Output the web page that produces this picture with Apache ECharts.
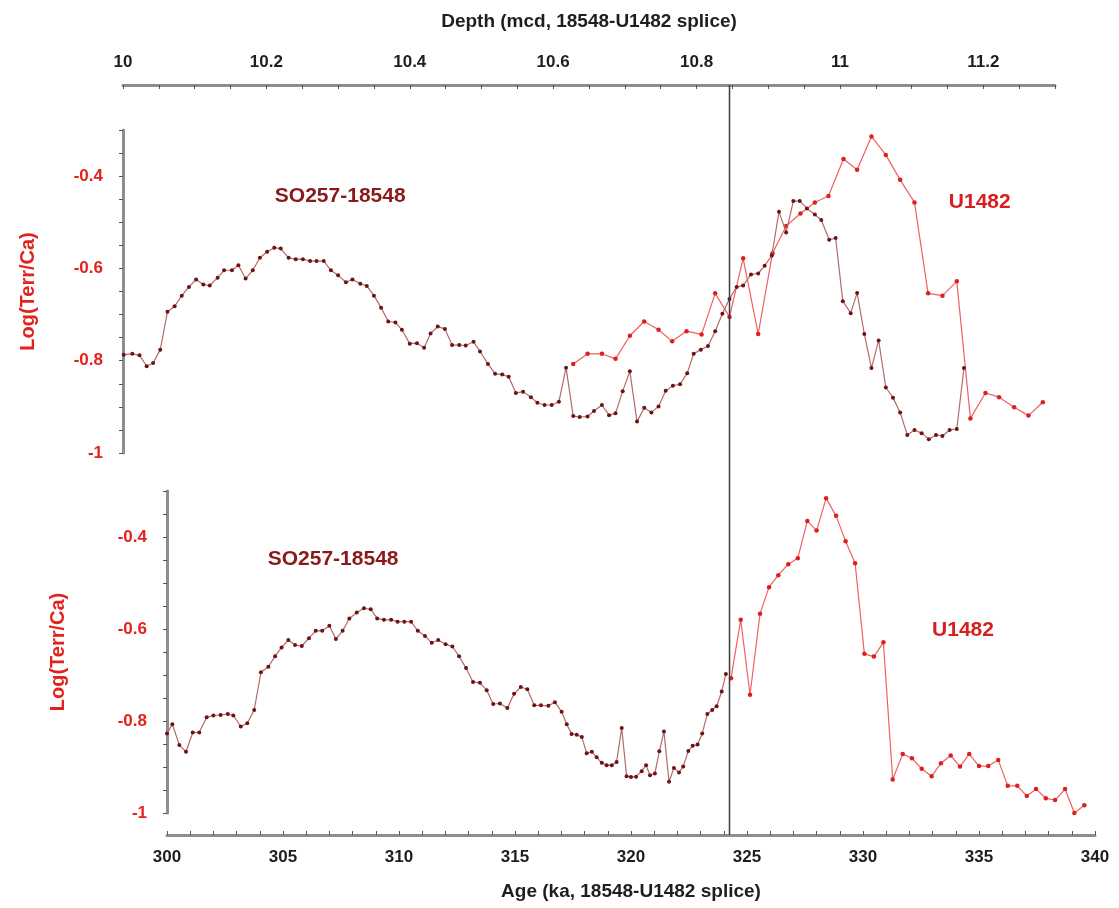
<!DOCTYPE html>
<html>
<head>
<meta charset="utf-8">
<script src="https://cdn.jsdelivr.net/npm/echarts@6/dist/echarts.min.js"></script>
<style>
html,body{margin:0;padding:0;background:#fff;}
#chart{width:1119px;height:908px;}
</style>
</head>
<body>
<div id="chart"></div>
<script>
// ---- Top panel (depth scale) ----
const depthSO257 = [
10.001,10.013,10.023,10.033,10.042,10.052,10.062,10.072,10.082,10.092,
10.102,10.112,10.121,10.132,10.141,10.152,10.161,10.171,10.181,10.191,
10.201,10.211,10.220,10.231,10.241,10.251,10.261,10.270,10.280,10.290,
10.300,10.311,10.320,10.331,10.340,10.350,10.360,10.370,10.380,10.389,
10.400,10.410,10.420,10.429,10.439,10.449,10.459,10.469,10.478,10.489,
10.498,10.509,10.519,10.529,10.538,10.548,10.558,10.569,10.578,10.588,
10.598,10.608,10.618,10.628,10.637,10.648,10.657,10.668,10.678,10.687,
10.697,10.707,10.717,10.727,10.737,10.747,10.757,10.767,10.777,10.787,
10.796,10.806,10.816,10.826,10.836,10.846,10.856,10.865,10.876,10.886,
10.895,10.905,10.915,10.925,10.935,10.944,10.954,10.965,10.974,10.985,
10.994,11.004,11.015,11.024,11.034,11.044,11.054,11.064,11.074,11.084,
11.094,11.104,11.114,11.124,11.134,11.143,11.153,11.163,11.173
];
const logSO257Depth = [
-0.787,-0.785,-0.788,-0.812,-0.805,-0.776,-0.694,-0.682,-0.659,-0.640,
-0.624,-0.635,-0.637,-0.620,-0.604,-0.604,-0.593,-0.622,-0.604,-0.577,
-0.564,-0.555,-0.557,-0.577,-0.580,-0.580,-0.584,-0.584,-0.584,-0.604,
-0.615,-0.630,-0.624,-0.633,-0.638,-0.659,-0.685,-0.715,-0.717,-0.733,
-0.763,-0.762,-0.772,-0.741,-0.726,-0.731,-0.766,-0.766,-0.767,-0.759,
-0.780,-0.807,-0.828,-0.830,-0.835,-0.870,-0.867,-0.879,-0.891,-0.896,
-0.896,-0.889,-0.815,-0.920,-0.922,-0.921,-0.909,-0.896,-0.918,-0.914,
-0.866,-0.823,-0.932,-0.902,-0.912,-0.899,-0.865,-0.854,-0.851,-0.827,
-0.785,-0.776,-0.768,-0.736,-0.698,-0.666,-0.640,-0.637,-0.613,-0.611,
-0.594,-0.572,-0.477,-0.522,-0.454,-0.454,-0.470,-0.483,-0.495,-0.538,
-0.534,-0.671,-0.697,-0.653,-0.742,-0.816,-0.756,-0.858,-0.880,-0.912,
-0.961,-0.950,-0.957,-0.970,-0.961,-0.963,-0.950,-0.948,-0.816
];
const depthU1482 = [
10.628,10.648,10.668,10.687,10.707,10.727,10.747,10.766,10.786,10.807,
10.826,10.846,10.865,10.886,10.906,10.925,10.945,10.965,10.984,11.005,
11.024,11.044,11.064,11.084,11.104,11.123,11.143,11.163,11.182,11.203,
11.222,11.243,11.263,11.283
];
const logU1482Depth = [
-0.807,-0.785,-0.785,-0.796,-0.746,-0.715,-0.733,-0.758,-0.736,-0.743,
-0.654,-0.705,-0.578,-0.742,-0.567,-0.508,-0.481,-0.457,-0.443,-0.363,
-0.386,-0.314,-0.354,-0.408,-0.457,-0.654,-0.659,-0.628,-0.925,-0.870,
-0.879,-0.901,-0.919,-0.890
];

// ---- Bottom panel (age scale, splice) ----
const ageSO257 = [
300.00,300.23,300.53,300.82,301.11,301.39,301.71,302.00,302.31,302.62,
302.86,303.18,303.46,303.76,304.05,304.37,304.66,304.94,305.23,305.52,
305.81,306.12,306.41,306.69,307.00,307.28,307.57,307.86,308.18,308.49,
308.78,309.06,309.35,309.66,309.94,310.23,310.52,310.81,311.12,311.41,
311.69,312.01,312.30,312.59,312.89,313.19,313.49,313.78,314.06,314.35,
314.67,314.96,315.25,315.53,315.83,316.12,316.44,316.72,317.01,317.23,
317.44,317.66,317.88,318.09,318.31,318.52,318.74,318.95,319.17,319.38,
319.60,319.81,320.00,320.22,320.46,320.65,320.82,321.03,321.22,321.42,
321.64,321.85,322.07,322.25,322.47,322.66,322.87,323.07,323.29,323.50,
323.69,323.91,324.09
];
const logSO257Age = [
-0.827,-0.807,-0.852,-0.867,-0.825,-0.825,-0.792,-0.788,-0.787,-0.785,
-0.788,-0.812,-0.805,-0.776,-0.694,-0.682,-0.659,-0.640,-0.624,-0.635,
-0.637,-0.620,-0.604,-0.604,-0.593,-0.622,-0.604,-0.577,-0.564,-0.555,
-0.557,-0.577,-0.580,-0.580,-0.584,-0.584,-0.584,-0.604,-0.615,-0.630,
-0.624,-0.633,-0.638,-0.659,-0.685,-0.715,-0.717,-0.733,-0.763,-0.762,
-0.772,-0.741,-0.726,-0.731,-0.766,-0.766,-0.767,-0.759,-0.780,-0.807,
-0.828,-0.830,-0.835,-0.870,-0.867,-0.879,-0.891,-0.896,-0.896,-0.889,
-0.815,-0.920,-0.922,-0.921,-0.909,-0.896,-0.918,-0.914,-0.866,-0.823,
-0.932,-0.902,-0.912,-0.899,-0.865,-0.854,-0.851,-0.827,-0.785,-0.776,
-0.768,-0.736,-0.698
];
const ageU1482 = [
324.31,324.73,325.13,325.56,325.95,326.35,326.78,327.19,327.60,328.00,
328.41,328.84,329.25,329.66,330.06,330.47,330.88,331.28,331.71,332.11,
332.53,332.96,333.36,333.78,334.18,334.58,335.00,335.40,335.83,336.24,
336.65,337.06,337.46,337.88,338.28,338.71,339.11,339.54
];
const logU1482Age = [
-0.707,-0.580,-0.743,-0.567,-0.509,-0.483,-0.459,-0.446,-0.365,-0.386,
-0.316,-0.354,-0.409,-0.457,-0.654,-0.660,-0.629,-0.927,-0.872,-0.881,
-0.904,-0.920,-0.892,-0.875,-0.899,-0.872,-0.898,-0.898,-0.885,-0.941,
-0.941,-0.963,-0.948,-0.968,-0.972,-0.948,-1.000,-0.983
];

const spliceDepth = 10.846;   // splice tie point (vertical line)
const depthRange = [10, 11.3];
const ageRange = [300, 340];
const logRange = [-1, -0.3];

// annotation anchors in data units
const labelTopSO257 = [10.303, -0.443];
const labelTopU1482 = [11.195, -0.457];
const labelBotSO257 = [307.16, -0.448];
const labelBotU1482 = [334.31, -0.602];

const zip = (xs, ys) => xs.map((x, i) => [x, ys[i]]);

const FONT = 'Liberation Sans, Arial, Helvetica, sans-serif';
const RED = '#e3221d';
const DARKRED = '#8a1a1a';
const AXIS_GREY = '#8e8e8e';

function labelEvery(step) {
  return function (v) {
    const k = Math.round(v * 100);
    const s = Math.round(step * 100);
    if (Math.abs(k % s) !== 0) return '';
    return String(+(k / 100).toFixed(2));
  };
}

function yAxisDef(grid, nameGap) {
  return {
    gridIndex: grid, type: 'value', min: logRange[0], max: logRange[1], interval: 0.05,
    name: 'Log(Terr/Ca)', nameLocation: 'middle', nameGap: nameGap,
    nameTextStyle: { color: RED, fontWeight: 'bold', fontSize: 20, fontFamily: FONT },
    axisLine: { show: true, onZero: false, lineStyle: { color: AXIS_GREY, width: 3 } },
    axisTick: { show: true, inside: false, length: 4, lineStyle: { color: '#555', width: 1 } },
    axisLabel: { formatter: labelEvery(0.2), color: RED, fontWeight: 'bold', fontSize: 17, margin: 20, fontFamily: FONT },
    splitLine: { show: false }
  };
}

function markLabel(text, coord, color) {
  return {
    symbol: 'rect', symbolSize: 1, silent: true,
    itemStyle: { color: 'rgba(0,0,0,0)' },
    label: { show: true, position: 'inside', formatter: text, color: color,
             fontWeight: 'bold', fontSize: 21, fontFamily: FONT },
    data: [{ coord: coord }]
  };
}

const soLine = { color: '#b36b6b', width: 1.2 };
const soItem = { color: '#6e1212' };
const uLine = { color: '#f06060', width: 1.2 };
const uItem = { color: '#dc1f1f' };

const option = {
  animation: false,
  backgroundColor: '#ffffff',
  textStyle: { fontFamily: FONT },
  grid: [
    { left: 123, top: 130, width: 932, height: 323, containLabel: false, outerBoundsMode: 'none' },
    { left: 167, top: 491, width: 928, height: 322, containLabel: false, outerBoundsMode: 'none' },
    { left: 123, top: 85, width: 932, height: 750, containLabel: false, outerBoundsMode: 'none' }
  ],
  xAxis: [
    {
      gridIndex: 0, type: 'value', position: 'top', offset: 45,
      min: depthRange[0], max: depthRange[1], interval: 0.05,
      name: 'Depth (mcd, 18548-U1482 splice)', nameLocation: 'middle', nameGap: 54,
      nameTextStyle: { color: '#1e1e1e', fontWeight: 'bold', fontSize: 19, fontFamily: FONT },
      axisLine: { show: true, onZero: false, lineStyle: { color: AXIS_GREY, width: 3 } },
      axisTick: { show: true, inside: true, length: 4, lineStyle: { color: '#555', width: 1 } },
      axisLabel: { formatter: labelEvery(0.2), color: '#1e1e1e', fontWeight: 'bold', fontSize: 17, margin: 14, fontFamily: FONT },
      splitLine: { show: false }
    },
    {
      gridIndex: 1, type: 'value', position: 'bottom', offset: 22,
      min: ageRange[0], max: ageRange[1], interval: 1,
      name: 'Age (ka, 18548-U1482 splice)', nameLocation: 'middle', nameGap: 47,
      nameTextStyle: { color: '#1e1e1e', fontWeight: 'bold', fontSize: 19, fontFamily: FONT },
      axisLine: { show: true, onZero: false, lineStyle: { color: AXIS_GREY, width: 3 } },
      axisTick: { show: true, inside: true, length: 4, lineStyle: { color: '#555', width: 1 } },
      axisLabel: { formatter: function (v) { return (Math.round(v) % 5 === 0) ? String(Math.round(v)) : ''; },
                   color: '#1e1e1e', fontWeight: 'bold', fontSize: 17, margin: 14, fontFamily: FONT },
      splitLine: { show: false }
    },
    { gridIndex: 2, type: 'value', min: depthRange[0], max: depthRange[1], show: false }
  ],
  yAxis: [
    yAxisDef(0, 85),
    yAxisDef(1, 99),
    { gridIndex: 2, type: 'value', min: 0, max: 1, show: false }
  ],
  series: [
    {
      name: 'U1482 (depth)', type: 'line', xAxisIndex: 0, yAxisIndex: 0,
      data: zip(depthU1482, logU1482Depth),
      symbol: 'circle', symbolSize: 4.5, lineStyle: uLine, itemStyle: uItem, z: 2,
      markPoint: markLabel('U1482', labelTopU1482, '#d81e1e')
    },
    {
      name: 'SO257-18548 (depth)', type: 'line', xAxisIndex: 0, yAxisIndex: 0,
      data: zip(depthSO257, logSO257Depth),
      symbol: 'circle', symbolSize: 4, lineStyle: soLine, itemStyle: soItem, z: 3,
      markPoint: markLabel('SO257-18548', labelTopSO257, DARKRED)
    },
    {
      name: 'SO257-18548 (age)', type: 'line', xAxisIndex: 1, yAxisIndex: 1,
      data: zip(ageSO257, logSO257Age),
      symbol: 'circle', symbolSize: 4, lineStyle: soLine, itemStyle: soItem, z: 3,
      markPoint: markLabel('SO257-18548', labelBotSO257, DARKRED)
    },
    {
      name: 'U1482 (age)', type: 'line', xAxisIndex: 1, yAxisIndex: 1,
      data: zip(ageU1482, logU1482Age),
      symbol: 'circle', symbolSize: 4.5, lineStyle: uLine, itemStyle: uItem, z: 2,
      markPoint: markLabel('U1482', labelBotU1482, '#d81e1e')
    },
    {
      name: 'splice', type: 'line', xAxisIndex: 2, yAxisIndex: 2, silent: true,
      data: [[spliceDepth, 0], [spliceDepth, 1]],
      symbol: 'none', lineStyle: { color: '#3c3c3c', width: 1.5 }, z: 5
    }
  ]
};

const chart = echarts.init(document.getElementById('chart'), null, { renderer: 'canvas' });
chart.setOption(option);
</script>
</body>
</html>
